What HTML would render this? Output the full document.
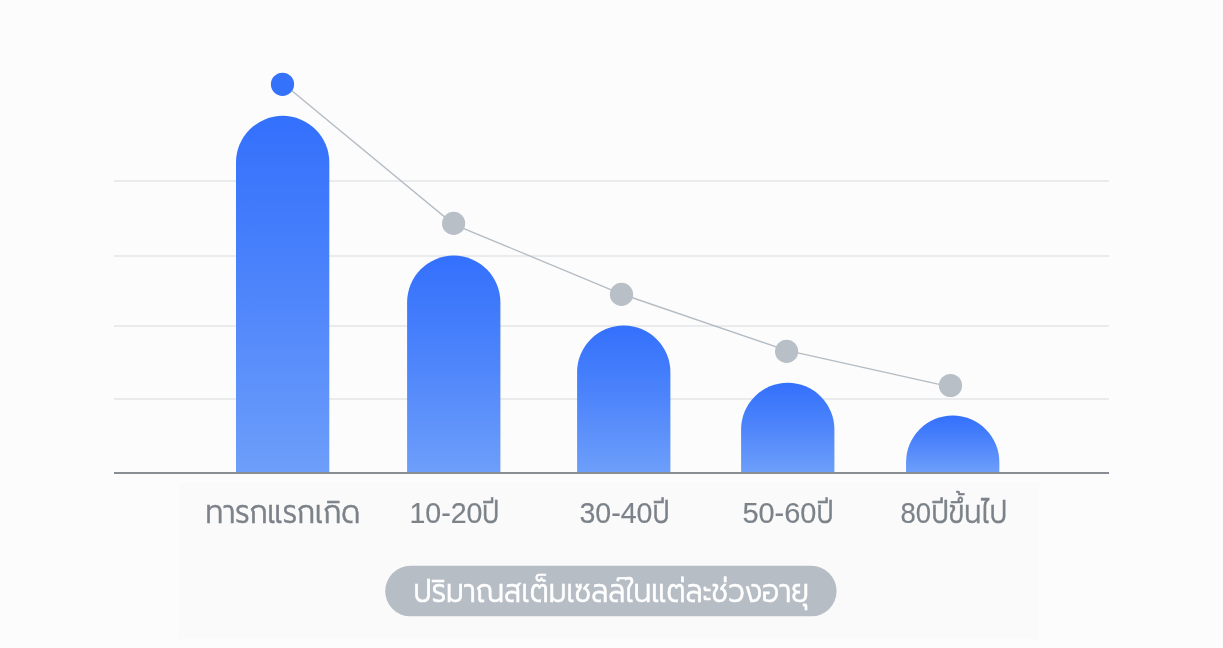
<!DOCTYPE html>
<html lang="th">
<head>
<meta charset="utf-8">
<title>ปริมาณสเต็มเซลล์ในแต่ละช่วงอายุ</title>
<style>
html,body{margin:0;padding:0;background:#fcfcfc;}
body{width:1223px;height:648px;overflow:hidden;position:relative;}
svg{display:block;position:absolute;left:0;top:0;}
text{font-family:"Liberation Sans","Prompt","Kanit","Noto Sans Thai","Noto Sans CJK SC",sans-serif;font-weight:300;}
.lbl{font-size:31.8px;fill:#7c8289;stroke:#7c8289;stroke-width:0.6px;}
.num{font-size:30.2px;fill:#7c8289;stroke:#7c8289;stroke-width:0.15px;}
.ttl{font-size:33.1px;fill:#ffffff;stroke:#ffffff;stroke-width:0.7px;}
</style>
</head>
<body>
<svg width="1223" height="648" viewBox="0 0 1223 648">
  <defs>
    <linearGradient id="g" x1="0" y1="0" x2="0" y2="1">
      <stop offset="0" stop-color="#3370fc"/>
      <stop offset="0.5" stop-color="#4e85fb"/>
      <stop offset="1" stop-color="#6d9efa"/>
    </linearGradient>
  </defs>
  <rect x="0" y="0" width="1223" height="648" fill="#fcfcfc"/>
  <rect x="179" y="482.5" width="860" height="156.2" fill="#fafafa"/>
  <!-- grid -->
  <g stroke="#e3e6e9" stroke-width="1.5">
    <line x1="114" y1="181" x2="1109" y2="181"/>
    <line x1="114" y1="256.1" x2="1109" y2="256.1"/>
    <line x1="114" y1="326.1" x2="1109" y2="326.1"/>
    <line x1="114" y1="399.1" x2="1109" y2="399.1"/>
  </g>
  <!-- trend line -->
  <polyline points="282.5,82.9 453.6,224.3 621.5,294 786.6,350.4 950.5,386.9" fill="none" stroke="#b4bcc4" stroke-width="1.35"/>
  <!-- bars -->
  <g fill="url(#g)">
    <path d="M236 472V162.45a46.65 46.65 0 0 1 93.3 0V472Z"/>
    <path d="M407.1 472V302.25a46.65 46.65 0 0 1 93.3 0V472Z"/>
    <path d="M577.1 472V372.15a46.65 46.65 0 0 1 93.3 0V472Z"/>
    <path d="M741.1 472V429.35a46.65 46.65 0 0 1 93.3 0V472Z"/>
    <path d="M906.05 472V462.15a46.65 46.65 0 0 1 93.3 0V472Z"/>
  </g>
  <!-- axis -->
  <rect x="114" y="472" width="995" height="2" fill="#888e94"/>
  <!-- dots -->
  <circle cx="282.5" cy="84.3" r="11.6" fill="#3572fc"/>
  <g fill="#b8bfc7">
    <circle cx="453.6" cy="223.4" r="11.6"/>
    <circle cx="621.5" cy="294.4" r="11.6"/>
    <circle cx="786.6" cy="351.4" r="11.6"/>
    <circle cx="950.5" cy="385.5" r="11.6"/>
  </g>
  <!-- labels -->
  <text class="lbl" x="205.5" y="523" textLength="154.6" lengthAdjust="spacingAndGlyphs">ทารกแรกเกิด</text>
  <text y="523"><tspan class="num" x="409.4" textLength="73.1" lengthAdjust="spacingAndGlyphs">10-20</tspan><tspan class="lbl" x="482.2" textLength="16.8" lengthAdjust="spacingAndGlyphs">ปี</tspan></text>
  <text y="523"><tspan class="num" x="579.4" textLength="73.0" lengthAdjust="spacingAndGlyphs">30-40</tspan><tspan class="lbl" x="652.8" textLength="16.7" lengthAdjust="spacingAndGlyphs">ปี</tspan></text>
  <text y="523"><tspan class="num" x="742.4" textLength="74.0" lengthAdjust="spacingAndGlyphs">50-60</tspan><tspan class="lbl" x="816.8" textLength="16.7" lengthAdjust="spacingAndGlyphs">ปี</tspan></text>
  <text y="523"><tspan class="num" x="900.4" textLength="30.6" lengthAdjust="spacingAndGlyphs">80</tspan><tspan class="lbl" x="931.5" textLength="75.5" lengthAdjust="spacingAndGlyphs">ปีขึ้นไป</tspan></text>
  <!-- title pill -->
  <rect x="385.2" y="565.8" width="451.4" height="50.5" rx="25.25" fill="#b6bdc5"/>
  <text class="ttl" x="413.5" y="602.2" textLength="395.5" lengthAdjust="spacingAndGlyphs">ปริมาณสเต็มเซลล์ในแต่ละช่วงอายุ</text>
</svg>
</body>
</html>
